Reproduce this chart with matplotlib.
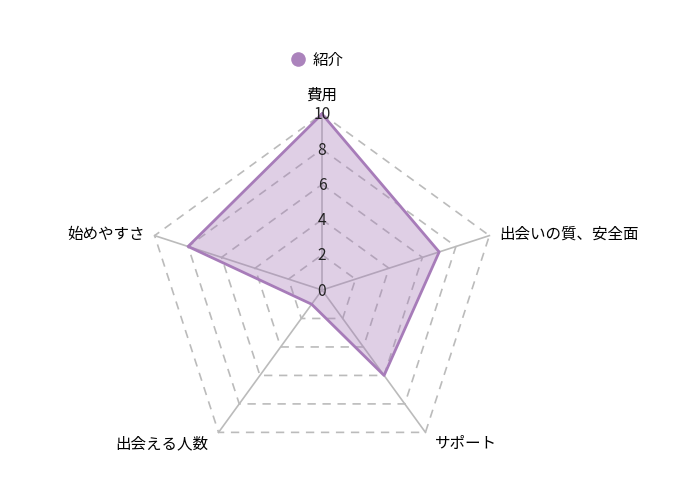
import matplotlib.pyplot as plt
import numpy as np

plt.rcParams['font.family'] = ['Noto Sans CJK JP', 'DejaVu Sans']

categories = ['費用', '出会いの質、安全面', 'サポート', '出会える人数', '始めやすさ']
values = [10, 7, 6, 1, 8]
series_name = '紹介'
ticks = [0, 2, 4, 6, 8, 10]
rmax = 10

LINE = '#a77cb9'
GRID = '#bbbbbb'
FS = 11.2

fig = plt.figure(figsize=(7, 5), dpi=100)
ax = fig.add_axes([0, 0, 1, 1])
# 1 data unit = 17.6 px, centre at pixel (322, 290)
s = 17.6
ax.set_xlim(-322 / s, 378 / s)
ax.set_ylim(-210 / s, 290 / s)
ax.axis('off')

n = len(categories)
ang = np.pi / 2 - np.arange(n) * 2 * np.pi / n

# grid rings
for t in ticks[1:]:
    xs = np.append(t * np.cos(ang), t * np.cos(ang[0]))
    ys = np.append(t * np.sin(ang), t * np.sin(ang[0]))
    ax.plot(xs, ys, color=GRID, lw=1.2, ls=(0, (5, 4)), zorder=1)

# spokes
for a in ang:
    ax.plot([0, rmax * np.cos(a)], [0, rmax * np.sin(a)], color=GRID, lw=1.2, zorder=1)

# data
v = np.array(values, dtype=float)
px = np.append(v * np.cos(ang), v[0] * np.cos(ang[0]))
py = np.append(v * np.sin(ang), v[0] * np.sin(ang[0]))
ax.fill(px, py, color=LINE, alpha=0.36, lw=0, zorder=2)
ax.plot(px, py, color=LINE, lw=2, zorder=3)

# radial tick labels on top spoke
for t in ticks:
    ax.text(0, t - 1 / s, str(t), ha='center', va='center', fontsize=FS, color='#222222', zorder=4)

# category labels
off = 10 / s
for c, a in zip(categories, ang):
    cx, cy = np.cos(a), np.sin(a)
    if abs(cx) < 0.1:
        ax.text(0, rmax + 19 / s, c, ha='center', va='center', fontsize=FS)
    else:
        ha = 'left' if cx > 0 else 'right'
        ax.text(rmax * cx + np.sign(cx) * off, rmax * cy + (-11 / s if cy < 0 else 1 / s), c,
                ha=ha, va='center', fontsize=FS)

# legend
ax.plot([(298 - 322) / s], [(290 - 59) / s], 'o', ms=10.5, color=LINE, mec='none', alpha=0.95)
ax.text((313 - 322) / s, (290 - 60) / s, series_name, ha='left', va='center', fontsize=FS)

fig.savefig('out.png', dpi=100)
